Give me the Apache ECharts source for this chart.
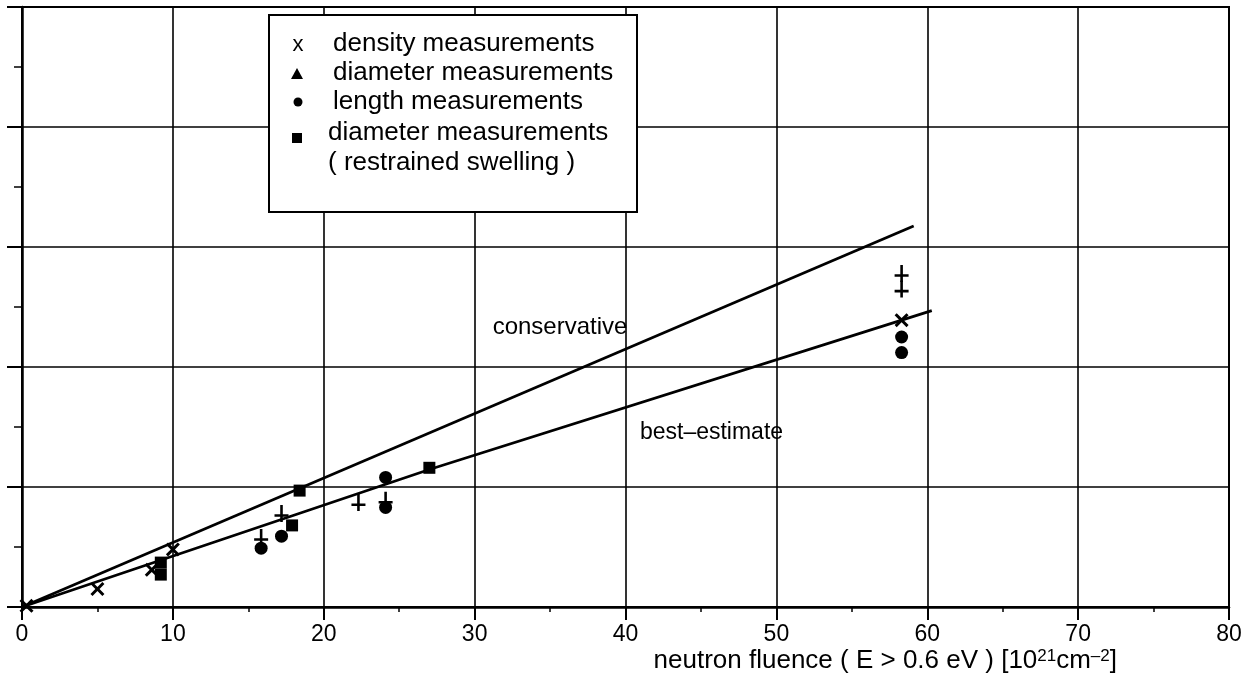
<!DOCTYPE html>
<html>
<head>
<meta charset="utf-8">
<script src="https://cdn.jsdelivr.net/npm/echarts@6/dist/echarts.min.js"></script>
<style>
  html, body { margin: 0; padding: 0; background: #fff; }
  #chart { width: 1257px; height: 687px; }
</style>
</head>
<body>
<div id="chart"></div>
<script>
// Swelling versus neutron fluence: measured points and two fit lines
const xTicks = [0, 10, 20, 30, 40, 50, 60, 70, 80];

const densityPts    = [[0.3, 0.01], [5.0, 0.15], [8.6, 0.31], [10.0, 0.48], [58.3, 2.39]];
const diameterPts   = [[15.85, 0.58], [17.2, 0.78], [22.3, 0.87], [24.1, 0.89], [58.3, 2.78], [58.3, 2.65]];
const lengthPts     = [[15.85, 0.49], [17.2, 0.59], [24.1, 1.08], [24.1, 0.83], [58.3, 2.25], [58.3, 2.12]];
const restrainedPts = [[9.2, 0.37], [9.2, 0.27], [17.9, 0.68], [18.4, 0.97], [27.0, 1.16]];

const conservativeLine = [[0, 0], [59.1, 3.175]];
const bestEstimateLine = [[0, 0], [27.1, 1.15], [60.3, 2.47]];

const lineLabels = [
  { text: 'conservative', at: [35.66, 2.33], size: 24 },
  { text: 'best\u2013estimate', at: [45.7, 1.45], size: 23 }
];

const legendRows = [
  { sym: 'x', text: 'density measurements' },
  { sym: 'triangle', text: 'diameter measurements' },
  { sym: 'circle', text: 'length measurements' },
  { sym: 'square', text: 'diameter measurements' },
  { sym: '', text: '( restrained swelling )' }
];

const FONT = '"Liberation Sans", Arial, Helvetica, sans-serif';
const INK = '#000';

// marker shapes
const xMark = 'path://M0,1.8 L1.8,0 L6,4.2 L10.2,0 L12,1.8 L7.8,6 L12,10.2 L10.2,12 L6,7.8 L1.8,12 L0,10.2 L4.2,6 Z';
const dagger = 'path://M5.3,0 H7.7 V8.8 H13 V11.2 H7.7 V16 H5.3 V11.2 H0 V8.8 H5.3 Z';

const chart = echarts.init(document.getElementById('chart'));

const markStyle = { color: INK, opacity: 1 };

chart.setOption({
  animation: false,
  backgroundColor: '#fff',
  grid: {
    left: 22, right: 28, top: 7, bottom: 80,
    show: true, borderColor: INK, borderWidth: 2, backgroundColor: 'transparent'
  },
  xAxis: {
    type: 'value', min: 0, max: 80, interval: 10,
    axisLine: { lineStyle: { color: INK, width: 2.5 } },
    axisTick: { length: 13, lineStyle: { color: INK, width: 2 } },
    minorTick: { show: true, splitNumber: 2, length: 5, lineStyle: { color: INK, width: 1.5 } },
    splitLine: { show: true, lineStyle: { color: INK, width: 1.6 } },
    axisLabel: {
      color: INK, fontFamily: FONT, fontSize: 23, margin: 16,
      formatter: v => (xTicks.indexOf(v) >= 0 ? String(v) : '')
    },
    name: 'neutron fluence ( E > 0.6 eV ) [10{s|21}cm{s|\u20132}]',
    nameLocation: 'end',
    nameGap: -112,
    nameTextStyle: {
      color: INK, fontFamily: FONT, fontSize: 26, align: 'right', verticalAlign: 'top',
      padding: [41, 0, 0, 0],
      rich: { s: { fontFamily: FONT, fontSize: 17, verticalAlign: 'top', color: INK, padding: [0, 0, 9, 0] } }
    }
  },
  yAxis: {
    type: 'value', min: 0, max: 5, interval: 1,
    axisLine: { lineStyle: { color: INK, width: 2.5 } },
    axisTick: { length: 15, lineStyle: { color: INK, width: 2 } },
    minorTick: { show: true, splitNumber: 2, length: 8, lineStyle: { color: INK, width: 1.5 } },
    splitLine: { show: true, lineStyle: { color: INK, width: 1.6 } },
    axisLabel: { show: false }
  },
  series: [
    {
      name: 'conservative', type: 'line', data: conservativeLine,
      showSymbol: false, symbol: 'none', z: 3,
      lineStyle: { color: INK, width: 2.8 }
    },
    {
      name: 'best-estimate', type: 'line', data: bestEstimateLine,
      showSymbol: false, symbol: 'none', z: 3,
      lineStyle: { color: INK, width: 2.8 }
    },
    {
      name: 'density measurements', type: 'scatter', data: densityPts,
      symbol: xMark, symbolSize: 14, itemStyle: markStyle, z: 4
    },
    {
      name: 'diameter measurements', type: 'scatter', data: diameterPts,
      symbol: dagger, symbolSize: [14, 17], itemStyle: markStyle, z: 4
    },
    {
      name: 'length measurements', type: 'scatter', data: lengthPts,
      symbol: 'circle', symbolSize: 13, itemStyle: markStyle, z: 4
    },
    {
      name: 'diameter measurements (restrained swelling)', type: 'scatter', data: restrainedPts,
      symbol: 'rect', symbolSize: 12, itemStyle: markStyle, z: 4
    }
  ]
});

// Legend box and fit-line captions
const legendX = 269, legendY = 15, legendW = 368, legendH = 197;
const rowMid = [44, 73, 102, 133, 163];
const symPos = [[298, 45], [297, 74], [298, 102], [297, 138]];

const graphics = [
  {
    type: 'rect', z: 10,
    shape: { x: legendX, y: legendY, width: legendW, height: legendH },
    style: { fill: '#fff', stroke: INK, lineWidth: 2 }
  }
];
legendRows.forEach((r, i) => {
  if (r.sym) {
    const [cx, cy] = symPos[i];
    if (r.sym === 'x') {
      graphics.push({
        type: 'text', z: 11, x: cx, y: cy,
        style: { text: 'x', fill: INK, font: '22px ' + FONT, textAlign: 'center', textVerticalAlign: 'middle' }
      });
    } else if (r.sym === 'triangle') {
      graphics.push({
        type: 'polygon', z: 11,
        shape: { points: [[cx, cy - 6], [cx + 6, cy + 5], [cx - 6, cy + 5]] },
        style: { fill: INK }
      });
    } else if (r.sym === 'circle') {
      graphics.push({ type: 'circle', z: 11, shape: { cx: cx, cy: cy, r: 4.5 }, style: { fill: INK } });
    } else {
      graphics.push({ type: 'rect', z: 11, shape: { x: cx - 5, y: cy - 5, width: 10, height: 10 }, style: { fill: INK } });
    }
  }
  graphics.push({
    type: 'text', z: 11, x: i >= 3 ? 328 : 333, y: rowMid[i],
    style: {
      text: r.text, fill: INK, font: '26px ' + FONT,
      textAlign: 'left', textVerticalAlign: 'middle'
    }
  });
});
lineLabels.forEach(l => {
  const p = chart.convertToPixel({ gridIndex: 0 }, l.at);
  graphics.push({
    type: 'text', z: 11, x: p[0], y: p[1],
    style: {
      text: l.text, fill: INK, font: l.size + 'px ' + FONT,
      textAlign: 'center', textVerticalAlign: 'middle'
    }
  });
});
chart.setOption({ graphic: graphics });
</script>
</body>
</html>
